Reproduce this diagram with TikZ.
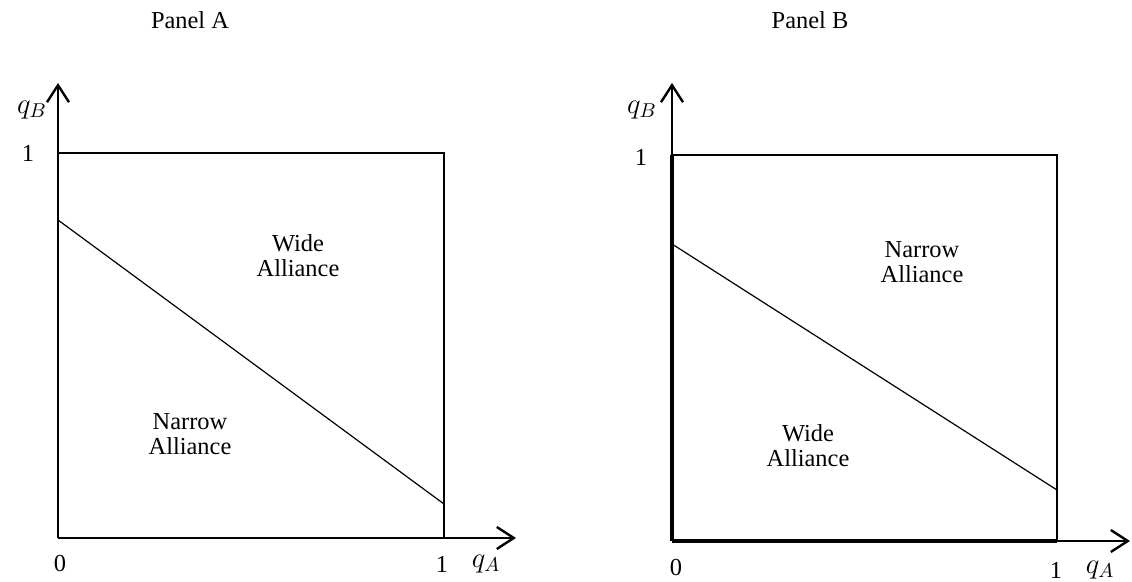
\documentclass[tikz,border=0pt]{standalone}
\usepackage{fontspec}
\setmainfont{Liberation Serif}
\usetikzlibrary{positioning,arrows.meta}

\begin{document}
\begin{tikzpicture}[
  x=0.5pt, y=0.5pt,
  font=\fontsize{12.2}{12.4}\selectfont,
  axis/.style ={line width=1.4pt, -{Straight Barb[length=8.5pt,width=11pt,line width=1.2pt]}},
  frame/.style={line width=1.2pt},
  cut/.style  ={line width=0.6pt},
  region/.style={align=center, inner sep=0pt},
  tick/.style ={inner sep=0pt},
  varlbl/.style={inner sep=0pt, font=\fontsize{14.5}{15}\selectfont}
]
\useasboundingbox (0,0) rectangle (1132,582);

% ---- Panel A: axes and unit square -------------------------------------------
\coordinate (oA) at (58,44);
\coordinate (yA) at (58,499);
\coordinate (xA) at (516,44);
\coordinate (tlA) at (58,429);
\coordinate (trA) at (444,429);
\coordinate (brA) at (444,44);
\coordinate (c1A) at (58,362);
\coordinate (c2A) at (444,78);

\draw[axis] (oA) -- (yA);
\draw[axis] (oA) -- (xA);
\draw[frame] (tlA) -- (trA) -- (brA);
\draw[cut] (c1A) -- (c2A);

\node (titleA) at (190,562) {Panel A};
\node[varlbl] (qbA) at (32,472) {$q_B$};
\node[tick] (oneyA) at (28,429) {1};
\node[tick] (zeroA) at (60,18) {0};
\node[tick] (onexA) at (442,18) {1};
\node[varlbl] (qaA) at (486,18) {$q_A$};

\node[region] (wideA) at (298,326) {Wide\\Alliance};
\node[region] (narrowA) at (190,148) {Narrow\\Alliance};

% ---- Panel B: axes and unit square -------------------------------------------
\coordinate (oB) at (672,41);
\coordinate (yB) at (672,499);
\coordinate (xB) at (1130,41);
\coordinate (tlB) at (672,427);
\coordinate (trB) at (1057,427);
\coordinate (brB) at (1057,41);
\coordinate (c1B) at (672,338);
\coordinate (c2B) at (1057,92);

\draw[axis] (oB) -- (yB);
\draw[axis] (oB) -- (xB);
\draw[frame] (tlB) -- (trB) -- (brB);
\draw[line width=2pt] (oB) -- (brB);
\draw[line width=2pt] (oB) -- (tlB);
\draw[cut] (c1B) -- (c2B);

\node (titleB) at (810,562) {Panel B};
\node[varlbl] (qbB) at (642,472) {$q_B$};
\node[tick] (oneyB) at (641,425) {1};
\node[tick] (zeroB) at (676,14) {0};
\node[tick] (onexB) at (1056,12) {1};
\node[varlbl] (qaB) at (1100,12) {$q_A$};

\node[region] (narrowB) at (922,320) {Narrow\\Alliance};
\node[region] (wideB) at (808,136) {Wide\\Alliance};

\end{tikzpicture}
\end{document}
